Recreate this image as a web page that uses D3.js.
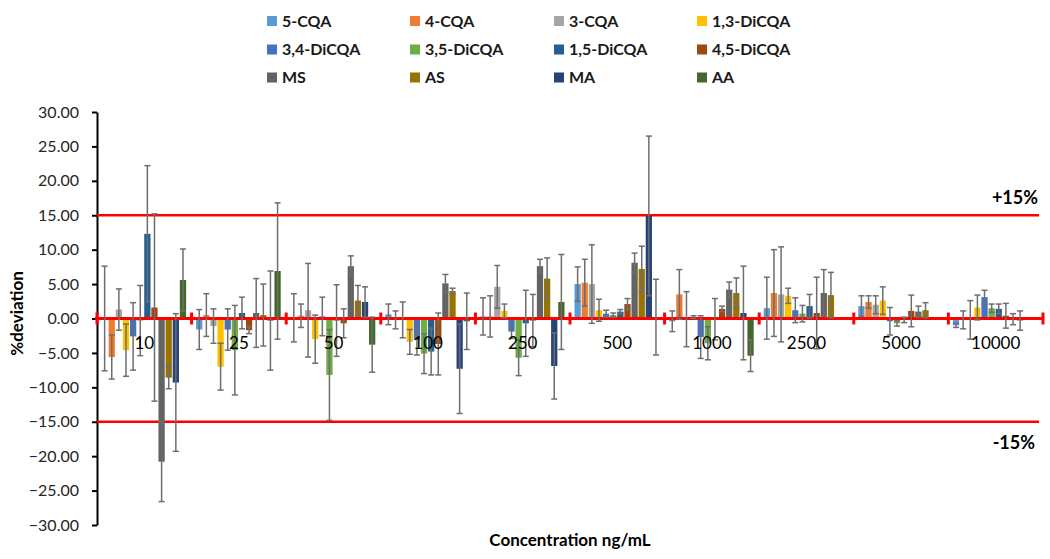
<!DOCTYPE html>
<html>
<head>
<meta charset="utf-8">
<script src="https://cdn.jsdelivr.net/npm/d3@7"></script>
<style>
  body { margin: 0; background: #fff; }
  svg { display: block; font-family: Lato, "Open Sans", sans-serif; }
</style>
</head>
<body>
<svg id="chart" width="1050" height="559"></svg>
<script>
// ---------- data ----------
const categories = ["10", "25", "50", "100", "250", "500", "1000", "2500", "5000", "10000"];
const seriesNames = ["5-CQA", "4-CQA", "3-CQA", "1,3-DiCQA", "3,4-DiCQA", "3,5-DiCQA",
                     "1,5-DiCQA", "4,5-DiCQA", "MS", "AS", "MA", "AA"];
const seriesColors = ["#5B9BD5", "#ED7D31", "#A5A5A5", "#FFC000", "#4472C4", "#70AD47",
                      "#255E91", "#9E480E", "#636363", "#997300", "#264478", "#43682B"];
const yTicks = [30, 25, 20, 15, 10, 5, 0, -5, -10, -15, -20, -25, -30];
const limits = [15, -15];
const limitLabels = ["+15%", "-15%"];

const val_5CQA  = [0.0, -1.6, 0.1, 0.6, 0.3, 5.0, -0.4, 1.5, 1.8, -1.0];
const err_5CQA  = [7.6, 2.9, 3.5, 1.5, 2.7, 2.5, 1.5, 4.5, 1.5, 0.3];
const val_4CQA  = [-5.6, 0.5, 0.4, -0.2, 0.3, 5.2, 3.5, 3.7, 2.4, -0.2];
const err_4CQA  = [3.2, 3.1, 1.7, 1.3, 3.0, 3.4, 3.6, 6.3, 0.9, 1.3];
const val_3CQA  = [1.3, -1.1, 1.2, -0.2, 4.6, 5.0, -0.1, 3.5, 2.0, -0.2];
const err_3CQA  = [3.0, 2.5, 6.8, 2.6, 3.1, 5.7, 4.0, 6.9, 1.3, 2.8];
const val_13Di  = [-4.6, -7.0, -3.0, -3.4, 1.1, 1.2, 0.2, 3.3, 2.6, 1.6];
const err_13Di  = [3.8, 3.4, 3.5, 1.8, 1.0, 1.6, 0.2, 1.1, 2.0, 1.8];
const val_34Di  = [-2.6, -1.6, 0.3, -3.1, -1.9, 0.7, -2.7, 1.2, -0.4, 3.1];
const err_34Di  = [4.9, 3.0, 2.8, 2.2, 1.0, 0.5, 3.1, 1.8, 2.0, 1.0];
const val_35Di  = [-0.3, -4.6, -8.2, -5.1, -5.7, 0.5, -3.6, 0.7, -0.7, 1.5];
const err_35Di  = [5.1, 6.5, 6.6, 2.9, 2.6, 0.3, 2.4, 1.2, 0.4, 0.6];
const val_15Di  = [12.3, 0.8, -0.3, -4.8, -0.7, 1.0, -0.1, 1.8, -0.2, 1.4];
const err_15Di  = [9.9, 2.3, 5.2, 3.4, 4.8, 0.3, 3.0, 1.7, 0.4, 0.7];
const val_45Di  = [1.6, -1.7, -0.7, -3.7, -0.3, 2.1, 1.4, 0.8, 1.1, 0.4];
const err_45Di  = [13.6, 0.5, 2.1, 4.5, 3.8, 0.8, 0.4, 5.2, 2.3, 1.8];
const val_MS    = [-20.8, 0.8, 7.6, 5.1, 7.6, 8.1, 4.2, 3.7, 1.0, -0.1];
const err_MS    = [5.8, 5.0, 1.5, 1.3, 1.0, 1.4, 1.1, 3.4, 0.8, 0.8];
const val_AS    = [-8.6, 0.5, 2.6, 4.0, 5.8, 7.2, 3.7, 3.4, 1.2, -0.3];
const err_AS    = [1.6, 4.5, 2.2, 0.4, 3.0, 3.3, 2.2, 3.3, 1.1, 1.4];
const val_MA    = [-9.3, -0.3, 2.4, -7.3, -6.9, 14.9, 0.8, null, null, null];
const err_MA    = [10.0, 7.2, 2.2, 6.5, 4.8, 11.6, 6.8, null, null, null];
const val_AA    = [5.6, 6.9, -3.8, -0.4, 2.4, 0.2, -5.4, null, null, null];
const err_AA    = [4.5, 9.9, 4.0, 4.1, 6.9, 5.5, 2.3, null, null, null];

const seriesValues = [val_5CQA, val_4CQA, val_3CQA, val_13Di, val_34Di, val_35Di,
                      val_15Di, val_45Di, val_MS, val_AS, val_MA, val_AA];
const seriesErrors = [err_5CQA, err_4CQA, err_3CQA, err_13Di, err_34Di, err_35Di,
                      err_15Di, err_45Di, err_MS, err_AS, err_MA, err_AA];

// ---------- layout ----------
const svg = d3.select("#chart");
const plotL = 97, plotR = 1043, plotT = 112, plotB = 525;

const x0 = d3.scaleBand().domain(categories).range([plotL, plotR]).paddingInner(0).paddingOuter(0);
const bw = x0.bandwidth();
const x1 = d3.scaleBand().domain(seriesNames).range([4.5, bw - 5.5]).paddingInner(0.12).paddingOuter(0);
const y = d3.scaleLinear().domain([-30, 30]).range([plotB, plotT]);

const rows = [];
categories.forEach((c, ci) => {
  seriesNames.forEach((s, si) => {
    const v = seriesValues[si][ci];
    if (v === null || v === undefined) return;
    rows.push({ cat: c, series: s, si, value: v, err: seriesErrors[si][ci] });
  });
});

// ---------- y axis ----------
const yAxis = d3.axisLeft(y).tickValues(yTicks).tickFormat(d3.format(".2f"))
  .tickSize(5).tickSizeOuter(0).tickPadding(13);
const gy = svg.append("g").attr("transform", `translate(${plotL},0)`).call(yAxis);
gy.select(".domain").attr("stroke", "#000").attr("stroke-width", 2);
gy.selectAll(".tick line").attr("stroke", "#000").attr("stroke-width", 2);
gy.selectAll(".tick text").attr("fill", "#262626").style("font-size", "16px")
  .style("font-family", "Lato, sans-serif");

// ---------- limit lines ----------
svg.selectAll(".limit").data(limits).join("line")
  .attr("x1", plotL).attr("x2", plotR - 4)
  .attr("y1", d => y(d)).attr("y2", d => y(d))
  .attr("stroke", "#FF0000").attr("stroke-width", 2.5);

// ---------- bars ----------
const bars = svg.append("g");
bars.selectAll("rect").data(rows).join("rect")
  .attr("x", d => x0(d.cat) + x1(d.series))
  .attr("width", x1.bandwidth())
  .attr("y", d => y(Math.max(0, d.value)))
  .attr("height", d => Math.abs(y(d.value) - y(0)))
  .attr("fill", d => seriesColors[d.si]);

// ---------- zero axis (red) ----------
svg.append("line")
  .attr("x1", plotL - 2).attr("x2", plotR)
  .attr("y1", y(0)).attr("y2", y(0))
  .attr("stroke", "#FF0000").attr("stroke-width", 3);
const boundaries = categories.map(c => x0(c)).concat([x0(categories[categories.length - 1]) + bw]);
svg.selectAll(".ztick").data(boundaries).join("line")
  .attr("x1", d => d).attr("x2", d => d)
  .attr("y1", y(0) - 6).attr("y2", y(0) + 6)
  .attr("stroke", "#FF0000").attr("stroke-width", 3);

// ---------- error bars ----------
const eb = svg.append("g").attr("stroke", "#6e6e6e").attr("stroke-width", 1.5);
const cx = d => x0(d.cat) + x1(d.series) + x1.bandwidth() / 2;
const capW = 3;
rows.filter(d => d.err).forEach(d => {
  const xx = cx(d);
  eb.append("line").attr("x1", xx).attr("x2", xx)
    .attr("y1", y(d.value + d.err)).attr("y2", y(d.value - d.err));
  eb.append("line").attr("x1", xx - capW).attr("x2", xx + capW)
    .attr("y1", y(d.value + d.err)).attr("y2", y(d.value + d.err));
  eb.append("line").attr("x1", xx - capW).attr("x2", xx + capW)
    .attr("y1", y(d.value - d.err)).attr("y2", y(d.value - d.err));
});

// ---------- category labels ----------
svg.selectAll(".catlab").data(categories).join("text")
  .attr("x", d => x0(d) + bw / 2)
  .attr("y", y(0) + 30)
  .attr("text-anchor", "middle")
  .style("font-size", "17px")
  .attr("fill", "#000")
  .text(d => d);

// ---------- limit labels ----------
svg.selectAll(".limlab").data(limits).join("text")
  .attr("x", (d, i) => i === 0 ? 1038 : 1035)
  .attr("y", d => d > 0 ? y(d) - 11 : y(d) + 27)
  .attr("text-anchor", "end")
  .style("font-size", "18px").style("font-weight", "bold")
  .attr("fill", "#000")
  .text((d, i) => limitLabels[i]);

// ---------- axis titles ----------
svg.append("text")
  .attr("x", 570).attr("y", 546)
  .attr("text-anchor", "middle")
  .style("font-size", "17px").style("font-weight", "bold")
  .attr("fill", "#000")
  .text("Concentration ng/mL");
svg.append("text")
  .attr("transform", `translate(23,${(plotT + plotB) / 2 - 5}) rotate(-90)`)
  .attr("text-anchor", "middle")
  .style("font-size", "17px").style("font-weight", "bold")
  .attr("fill", "#000")
  .text("%deviation");

// ---------- legend ----------
const legX = [267, 410, 554, 697];
const legY = [21, 49.5, 77.5];
const leg = svg.append("g");
seriesNames.forEach((s, i) => {
  const col = i % 4, row = Math.floor(i / 4);
  const g = leg.append("g").attr("transform", `translate(${legX[col]},${legY[row]})`);
  g.append("rect").attr("x", 0).attr("y", -5).attr("width", 10).attr("height", 10)
    .attr("fill", seriesColors[i]);
  g.append("text").attr("x", 15).attr("y", 0).attr("dy", "0.36em")
    .style("font-size", "16px").style("font-weight", "bold")
    .attr("fill", "#1a1a1a").text(s);
});
</script>
</body>
</html>
